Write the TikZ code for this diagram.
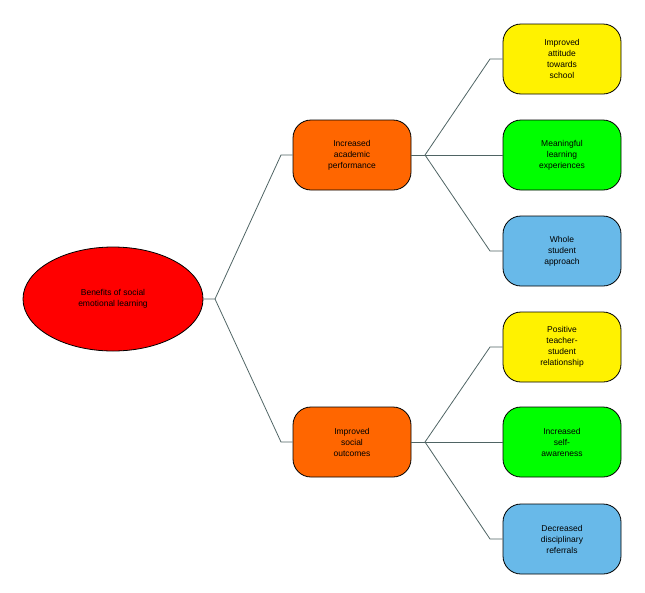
\documentclass[tikz,border=0pt]{standalone}
\usepackage{fontspec}
\setmainfont{Liberation Sans}
\usetikzlibrary{shapes}
\definecolor{vonal}{HTML}{4F6464}

\begin{document}
\begin{tikzpicture}[x=1pt,y=-1pt,
doboz/.style={rectangle,rounded corners=18pt,draw=black,thick,minimum width=118pt,minimum height=70pt,
  align=center,font=\fontsize{8.5}{11}\selectfont,text width=80pt},
kozep/.style={doboz,fill=orange!80!red},
ag/.style={vonal,thick}]
\useasboundingbox (0,0) rectangle (645,592);
\node[ellipse,draw=black,thick,fill=red,minimum width=180pt,minimum height=104pt,align=center,
  font=\fontsize{8.5}{11}\selectfont](gyoker) at (113,299){Benefits of social\\emotional learning};
\node[kozep](akad) at (352,155){Increased\\academic\\performance};
\node[kozep](szoc) at (352,442){Improved\\social\\outcomes};
\node[doboz,fill=yellow](a1) at (562,59){Improved\\attitude\\towards\\school};
\node[doboz,fill=green](a2) at (562,155){Meaningful\\learning\\experiences};
\node[doboz,fill=cyan!80!blue!60](a3) at (562,251){Whole\\student\\approach};
\node[doboz,fill=yellow](s1) at (562,347){Positive\\teacher-\\student\\relationship};
\node[doboz,fill=green](s2) at (562,442){Increased\\self-\\awareness};
\node[doboz,fill=cyan!80!blue!60](s3) at (562,539){Decreased\\disciplinary\\referrals};
% agak
\coordinate (g) at (215,299);
\coordinate (ak) at (425,155);
\coordinate (sk) at (425,442);
\draw[ag] (gyoker.east)--(g)--(281,155)--(akad.west);
\draw[ag] (g)--(281,442)--(szoc.west);
\draw[ag] (akad.east)--(ak);
\draw[ag] (szoc.east)--(sk);
\draw[ag] (ak)--(490,59)--(a1.west);
\draw[ag] (ak)--(a2.west);
\draw[ag] (ak)--(490,251)--(a3.west);
\draw[ag] (sk)--(490,347)--(s1.west);
\draw[ag] (sk)--(s2.west);
\draw[ag] (sk)--(490,539)--(s3.west);
\end{tikzpicture}
\end{document}
